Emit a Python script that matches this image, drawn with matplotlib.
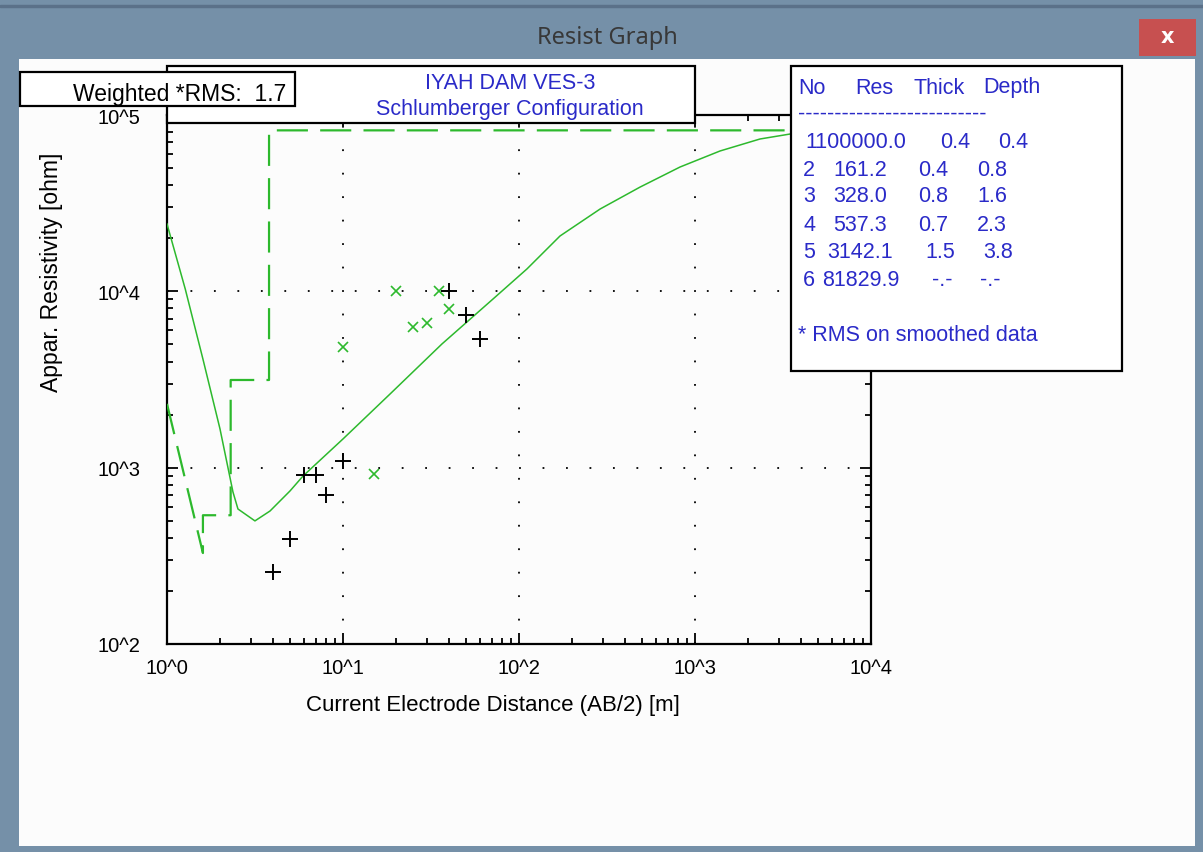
import matplotlib.pyplot as plt
import numpy as np
from matplotlib.patches import Rectangle
from matplotlib.ticker import FixedLocator, LogLocator, NullFormatter

# Observed sounding data (black +)
obs_ab2 = [4, 5, 6, 7, 8, 10, 40, 50, 60]
obs_res = [256, 394, 908, 908, 700, 1090, 10000, 7340, 5370]

# Smoothed data (green x)
smooth_ab2 = [10, 15, 20, 25, 30, 35, 40]
smooth_res = [4830, 920, 10000, 6280, 6610, 10000, 7940]

# Calculated model curve (green solid)
curve_ab2 = [1.0, 1.27, 1.6, 2.0, 2.37, 2.53, 3.16, 3.85, 5.0, 5.93, 10.0,
             18.5, 36.5, 71.2, 111.0, 171.0, 289.0, 487.0, 822.0, 1387.0,
             2340.0, 3467.0, 6670.0, 10000.0]
curve_res = [24100, 10300, 4130, 1660, 728, 583, 499, 568, 738, 897, 1455,
             2616, 5030, 9050, 13400, 20600, 29300, 39000, 50700, 62500,
             73100, 78000, 81000, 81500]

# Layered model (green dashed)
model_depth = [1.6, 2.3, 3.8]
model_res = [328.0, 537.3, 3142.1, 81829.9]
model_start_res = 2300.0

# Result table
layer_no = ["1", "2", "3", "4", "5", "6"]
layer_res = ["100000.0", "161.2", "328.0", "537.3", "3142.1", "81829.9"]
layer_thick = ["0.4", "0.4", "0.8", "0.7", "1.5", "-.-"]
layer_depth = ["0.4", "0.8", "1.6", "2.3", "3.8", "-.-"]

W, H = 1203, 853
WIN = "#7590a8"
BLUE = "#2a2ac8"
GREEN = "#2db92d"
FONT = "Liberation Sans"


def fx(x):
    return x / W


def fy(y):
    return 1 - y / H


fig = plt.figure(figsize=(W / 100, H / 100), dpi=100, facecolor=WIN)

# window chrome
fig.add_artist(Rectangle((0, fy(8)), 1, 2 / H, transform=fig.transFigure,
                         color="#5b7189", zorder=0))
fig.add_artist(Rectangle((fx(19), fy(847)), fx(1195 - 19), (847 - 60) / H,
                         transform=fig.transFigure, facecolor="#fcfcfc",
                         edgecolor="none", zorder=0))
fig.add_artist(Rectangle((fx(1139), fy(57)), fx(57), 37 / H,
                         transform=fig.transFigure, facecolor="#c75050",
                         edgecolor="none", zorder=1))
fig.text(fx(1167), fy(37), "x", color="white", fontsize=15, fontweight="bold",
         ha="center", va="center", family="DejaVu Sans")
fig.text(fx(607), fy(38), "Resist Graph", color="#383838", fontsize=17,
         ha="center", va="center", family="Noto Sans")

ax = fig.add_axes([fx(167), fy(645), fx(871 - 167), (645 - 116) / H])
ax.set_facecolor("#fcfcfc")
ax.set_xscale("log")
ax.set_yscale("log")
ax.set_xlim(1, 1e4)
ax.set_ylim(1e2, 1e5)

# dashed layer model: sloped start, then steps at each depth
mx = [1.0, model_depth[0]]
my = [model_start_res, model_res[0]]
for i, d in enumerate(model_depth):
    mx += [d, model_depth[i + 1] if i + 1 < len(model_depth) else 1e4]
    my += [model_res[i + 1], model_res[i + 1]]
    if i + 1 < len(model_depth):
        mx.append(model_depth[i + 1])
        my.append(model_res[i + 2])
ax.plot(mx, my, color=GREEN, lw=1.6, linestyle=(0, (14, 5.5)), zorder=3)

ax.plot(curve_ab2, curve_res, color=GREEN, lw=1.1, zorder=3)
ax.plot(smooth_ab2, smooth_res, "x", color=GREEN, ms=7, mew=1.2, zorder=4)
ax.plot(obs_ab2, obs_res, "+", color="black", ms=11, mew=1.4, zorder=4)

ax.xaxis.set_major_locator(FixedLocator([1, 10, 100, 1000, 10000]))
ax.yaxis.set_major_locator(FixedLocator([100, 1000, 10000, 100000]))
ax.set_xticklabels(["10^0", "10^1", "10^2", "10^3", "10^4"])
ax.set_yticklabels(["10^2", "10^3", "10^4", "10^5"])
ax.xaxis.set_minor_locator(LogLocator(base=10, subs=np.arange(2, 10)))
ax.yaxis.set_minor_locator(LogLocator(base=10, subs=np.arange(2, 10)))
ax.xaxis.set_minor_formatter(NullFormatter())
ax.yaxis.set_minor_formatter(NullFormatter())
ax.tick_params(which="both", direction="in", top=True, right=True,
               colors="black", labelsize=14.5)
ax.tick_params(which="major", length=8, width=1.3)
ax.tick_params(which="minor", length=4, width=1.3)
ax.tick_params(axis="x", pad=10)
ax.tick_params(axis="y", pad=19)
for lab in ax.get_xticklabels() + ax.get_yticklabels():
    lab.set_family(FONT)
ax.grid(which="major", color="black", linestyle=(0, (1, 12)), lw=1.3)
for s in ax.spines.values():
    s.set_linewidth(1.6)

fig.text(fx(493), fy(705), "Current Electrode Distance (AB/2) [m]",
         fontsize=16, family=FONT, ha="center", va="center")
fig.text(fx(52), fy(272), "Appar. Resistivity [ohm]", fontsize=16.5,
         family=FONT, rotation=90, ha="center", va="center")


def box(x0, y0, x1, y1, z):
    fig.add_artist(Rectangle((fx(x0), fy(y1)), fx(x1 - x0), (y1 - y0) / H,
                             transform=fig.transFigure, facecolor="white",
                             edgecolor="black", lw=1.6, zorder=z))


# title box
box(167, 67, 695, 124, 5)
fig.text(fx(510), fy(84), "IYAH DAM VES-3", color=BLUE, fontsize=15.5,
         family=FONT, ha="center", va="center", zorder=6)
fig.text(fx(510), fy(110), "Schlumberger Configuration", color=BLUE,
         fontsize=15.5, family=FONT, ha="center", va="center", zorder=6)

# rms box
box(20, 73, 295, 107, 7)
fig.text(fx(286), fy(95), "Weighted *RMS:  1.7", fontsize=16.5, family=FONT,
         ha="right", va="center", zorder=8)

# layer table
box(791, 67, 1122, 372, 7)
tk = dict(color=BLUE, fontsize=15.5, family=FONT, va="center", zorder=8)
for x, head in zip([798, 855, 913, 983], ["No", "Res", "Thick", "Depth"]):
    fig.text(fx(x), fy(88), head, **tk)
fig.text(fx(798), fy(114), "-" * 26, **tk)
no_x = 803
res_x = [805, 833, 833, 833, 827, 822]
thick_x = [940, 918, 918, 918, 925, 932]
depth_x = [998, 977, 977, 977, 983, 980]
row_y = [143, 170, 197, 226, 253, 281]
for i in range(len(layer_no)):
    y = fy(row_y[i])
    if i == 0:
        fig.text(fx(res_x[i]), y, layer_no[i] + layer_res[i], **tk)
    else:
        fig.text(fx(no_x), y, layer_no[i], **tk)
        fig.text(fx(res_x[i]), y, layer_res[i], **tk)
    fig.text(fx(thick_x[i]), y, layer_thick[i], **tk)
    fig.text(fx(depth_x[i]), y, layer_depth[i], **tk)
fig.text(fx(798), fy(336), "* RMS on smoothed data", **tk)

fig.savefig("out.png", dpi=100, facecolor=WIN)
